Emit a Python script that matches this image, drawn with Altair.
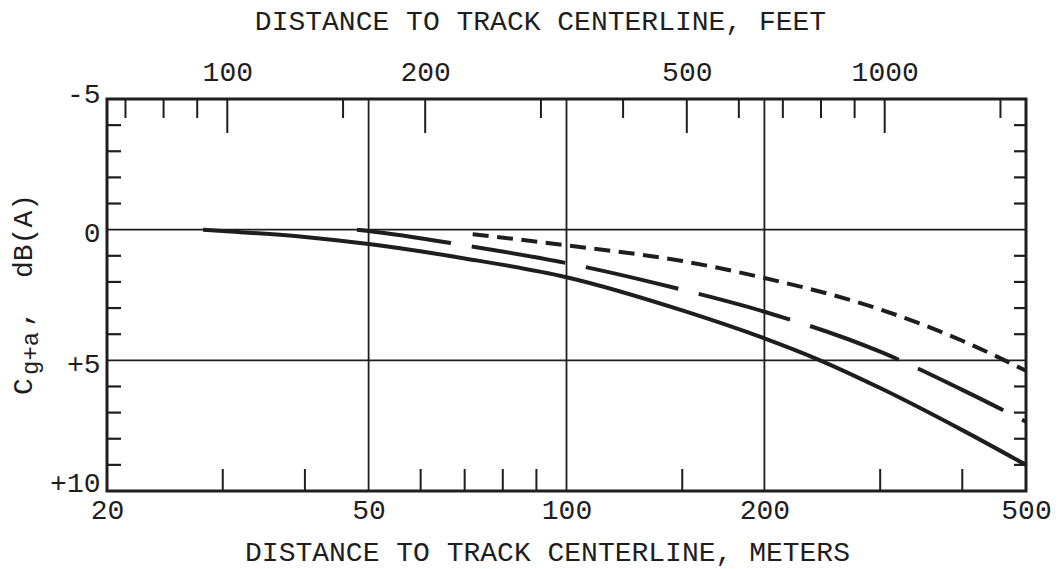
import altair as alt
import pandas as pd

# Ground + air attenuation correction C_g+a versus distance (metres)
solid_m = [28, 30, 40, 50, 70, 100, 150, 200, 241, 300, 400, 500]
solid_v = [0.0, 0.05, 0.28, 0.55, 1.1, 1.82, 3.09, 4.16, 4.96, 6.06, 7.67, 9.0]
long_m = [48, 50, 70, 100, 150, 200, 300, 400, 500]
long_v = [0.0, 0.05, 0.6, 1.28, 2.3, 3.14, 4.67, 6.13, 7.35]
short_m = [72, 100, 150, 200, 300, 400, 500]
short_v = [0.17, 0.6, 1.2, 1.85, 3.05, 4.25, 5.4]

# Axis labels, grid lines and tick marks
m_labels = [20, 50, 100, 200, 500]
m_grid = [50, 100, 200]
m_minor = [30, 40, 60, 70, 80, 90, 150, 300, 400]
ft_labels = [100, 200, 500, 1000]
ft_minor = [70, 80, 90, 150, 300, 400, 600, 700, 800, 900, 1500]
v_labels = [-5, 0, 5, 10]
v_grid = [0, 5]
v_minor = [-4, -3, -2, -1, 1, 2, 3, 4, 6, 7, 8, 9]

M_TO_FT = 1 / 0.3048
W, H = 919, 392
FONT = "Liberation Mono"
INK = "#1e1e1e"

x_scale = alt.Scale(type="log", domain=[20, 500])
y_scale = alt.Scale(domain=[-5, 10], reverse=True)

bottom_axis = alt.Axis(
    values=m_labels, format="d", grid=False, ticks=False, tickSize=0, domain=False,
    labelFlush=False, labelOverlap=False, labelBaseline="alphabetic", labelPadding=27,
    title="DISTANCE TO TRACK CENTERLINE, METERS", titleX=440, titleY=69,
    titleBaseline="alphabetic", titleAlign="center",
)
left_axis = alt.Axis(
    values=v_labels, grid=False, ticks=False, tickSize=0, domain=False,
    labelExpr="datum.value > 0 ? '+' + datum.value : '' + datum.value",
    labelBaseline="middle", labelPadding=7, labelFlush=False, labelOverlap=False,
    labelOffset={
        "condition": [
            {"test": "datum.value === 10", "value": -8},
            {"test": "datum.value === -5", "value": -5},
        ],
        "value": 4,
    },
    title=None,
)
top_axis = alt.Axis(
    orient="top", values=ft_labels, format="d", grid=False, ticks=False, tickSize=0,
    domain=False, labelFlush=False, labelOverlap=False, labelBaseline="alphabetic",
    labelPadding=19,
    title="DISTANCE TO TRACK CENTERLINE, FEET", titleX=433, titleY=-70,
    titleBaseline="alphabetic", titleAlign="center",
)

XM = alt.X("m:Q", scale=x_scale, axis=bottom_axis)
YV = alt.Y("v:Q", scale=y_scale, axis=left_axis)

grid_v = alt.Chart(pd.DataFrame({"m": m_grid})).mark_rule(
    color=INK, strokeWidth=1.8
).encode(x=XM, y=alt.value(0), y2=alt.value(H))

grid_h = alt.Chart(pd.DataFrame({"v": v_grid})).mark_rule(
    color=INK, strokeWidth=1.8
).encode(y=YV, x=alt.value(0), x2=alt.value(W))

ticks_bottom = alt.Chart(pd.DataFrame({"m": m_minor})).mark_rule(
    color=INK, strokeWidth=2
).encode(x=XM, y=alt.value(H), y2=alt.value(H - 22))

ticks_left = alt.Chart(pd.DataFrame({"v": v_minor})).mark_rule(
    color=INK, strokeWidth=2.2
).encode(y=YV, x=alt.value(0), x2=alt.value(14))

ticks_right = alt.Chart(pd.DataFrame({"v": v_minor})).mark_rule(
    color=INK, strokeWidth=2.2
).encode(y=YV, x=alt.value(W), x2=alt.value(W - 12))


def curve(ms, vs, dash):
    props = dict(color=INK, strokeWidth=4, interpolate="monotone")
    if dash:
        props["strokeDash"] = dash
    return alt.Chart(pd.DataFrame({"m": ms, "v": vs})).mark_line(**props).encode(
        x=XM, y=YV, order=alt.Order("m:Q")
    )


solid = curve(solid_m, solid_v, None)
long_dash = curve(long_m, long_v, [95, 21])
short_dash = curve(short_m, short_v, [16, 8.5])

# y-axis title: C with subscript g+a, then dB(A)
one = pd.DataFrame({"k": [0]})


def ytext(txt, size, x, y):
    return alt.Chart(one).mark_text(
        text=txt, angle=270, align="left", baseline="alphabetic",
        font=FONT, fontSize=size, color=INK,
    ).encode(x=alt.value(x), y=alt.value(y))


ytitle = [
    ytext("C", 28, -75, 296),
    ytext("g+a", 24, -69, 276),
    ytext(",", 28, -77, 228),
    ytext("dB(A)", 28, -75, 179),
]

meters = alt.layer(
    grid_v, grid_h, ticks_bottom, ticks_left, ticks_right,
    solid, long_dash, short_dash, *ytitle,
)

XF = alt.X(
    "ft:Q",
    scale=alt.Scale(type="log", domain=[20 * M_TO_FT, 500 * M_TO_FT]),
    axis=top_axis,
)
ticks_top_short = alt.Chart(pd.DataFrame({"ft": ft_minor})).mark_rule(
    color=INK, strokeWidth=2
).encode(x=XF, y=alt.value(0), y2=alt.value(19))
ticks_top_long = alt.Chart(pd.DataFrame({"ft": ft_labels})).mark_rule(
    color=INK, strokeWidth=2
).encode(x=XF, y=alt.value(0), y2=alt.value(34))

feet = alt.layer(ticks_top_short, ticks_top_long)

chart = (
    alt.layer(meters, feet)
    .resolve_scale(x="independent")
    .properties(
        width=W, height=H,
        padding={"left": 107, "top": 99, "right": 35, "bottom": 78},
        autosize=alt.AutoSizeParams(type="none"),
        background="white",
    )
    .configure_view(stroke=INK, strokeWidth=3)
    .configure_axis(
        labelFont=FONT, labelFontSize=28, labelColor=INK,
        titleFont=FONT, titleFontSize=28, titleColor=INK, titleFontWeight="normal",
    )
)

chart.save("out.html", embed_options={"renderer": "svg", "actions": False})
